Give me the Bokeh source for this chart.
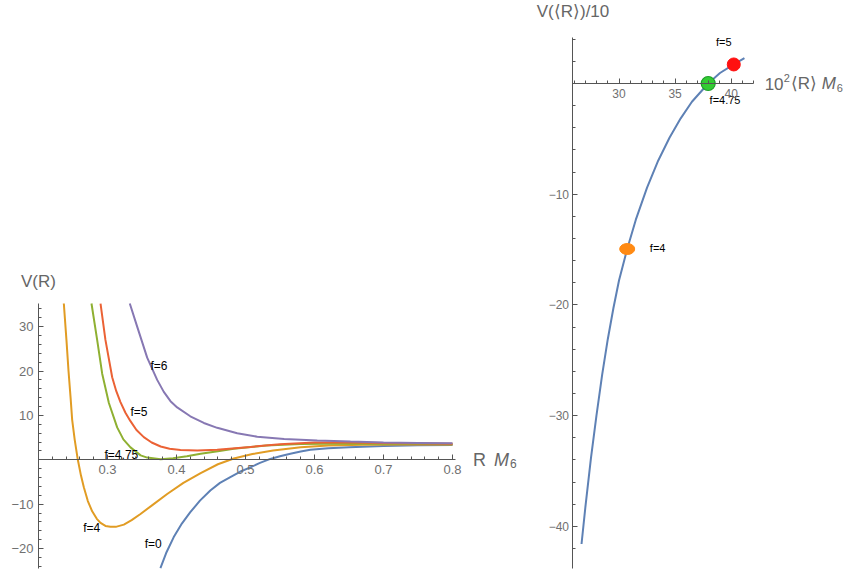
from bokeh.plotting import figure
from bokeh.models import LinearAxis, FixedTicker, Label, ColumnDataSource, Range1d
from bokeh.core.properties import value
from bokeh.embed import file_html
from bokeh.resources import INLINE

# ---------------- data: left panel V(R) ----------------
R_f0 = [0.3767, 0.385, 0.396, 0.408, 0.420, 0.434, 0.449, 0.463, 0.478, 0.492, 0.507, 0.521, 0.536, 0.55, 0.565, 0.58, 0.594, 0.62, 0.65, 0.7, 0.75, 0.8]
V_f0 = [-24.4, -21.0, -17.4, -14.3, -11.8, -9.2, -6.9, -5.2, -3.9, -2.7, -1.7, -0.7, 0.2, 0.8, 1.35, 1.85, 2.25, 2.6, 2.85, 3.1, 3.25, 3.35]

R_f4 = [0.2367, 0.2405, 0.2435, 0.2465, 0.2488, 0.2525, 0.257, 0.2615, 0.2657, 0.2715, 0.2778, 0.2845, 0.2899, 0.297, 0.3043, 0.312, 0.3237, 0.335, 0.3478, 0.365, 0.3865, 0.41, 0.435, 0.46, 0.483, 0.51, 0.54, 0.58, 0.62, 0.67, 0.72, 0.8]
V_f4 = [35.2, 27.0, 20.0, 14.0, 9.0, 4.5, 0.0, -3.5, -6.2, -9.3, -11.6, -13.3, -14.2, -14.9, -15.1, -15.1, -14.6, -13.6, -12.2, -10.2, -7.7, -5.2, -3.0, -1.0, 0.3, 1.3, 2.1, 2.8, 3.2, 3.4, 3.45, 3.45]

R_f475 = [0.2768, 0.285, 0.2923, 0.302, 0.314, 0.323, 0.3333, 0.348, 0.3575, 0.377, 0.395, 0.415, 0.435, 0.46, 0.483, 0.53, 0.58, 0.65, 0.72, 0.8]
V_f475 = [35.2, 27.0, 19.4, 12.8, 7.3, 4.6, 2.8, 1.0, 0.5, 0.15, 0.35, 0.8, 1.35, 1.95, 2.5, 3.2, 3.55, 3.65, 3.6, 3.5]

R_f5 = [0.2899, 0.297, 0.3068, 0.3126, 0.3188, 0.326, 0.3333, 0.342, 0.3526, 0.364, 0.377, 0.39, 0.4058, 0.43, 0.459, 0.507, 0.55, 0.6, 0.65, 0.7, 0.8]
V_f5 = [35.2, 27.0, 18.6, 15.5, 13.0, 10.6, 8.7, 6.7, 5.1, 3.9, 3.0, 2.5, 2.2, 2.1, 2.25, 2.9, 3.5, 3.9, 3.9, 3.8, 3.6]

R_f6 = [0.3323, 0.343, 0.3575, 0.372, 0.3816, 0.3913, 0.401, 0.420, 0.4396, 0.459, 0.488, 0.517, 0.556, 0.604, 0.652, 0.7, 0.75, 0.8]
V_f6 = [35.2, 30.0, 23.0, 18.0, 15.3, 13.2, 11.8, 9.8, 8.3, 7.2, 6.0, 5.2, 4.7, 4.35, 4.1, 3.9, 3.8, 3.7]

curve_labels = ["f=6", "f=5", "f=4.75", "f=4", "f=0"]
curve_label_R = [0.3623, 0.3333, 0.2957, 0.2648, 0.354]
curve_label_V = [21.2, 10.7, 1.0, -15.3, -18.9]

left_x_ticks = [0.3, 0.4, 0.5, 0.6, 0.7, 0.8]
left_x_tick_labels = ["0.3", "0.4", "0.5", "0.6", "0.7", "0.8"]
left_y_ticks = [-20, -10, 10, 20, 30]
left_y_tick_labels = ["\u221220", "\u221210", "10", "20", "30"]

# ---------------- data: right panel V(<R>)/10 ----------------
X_curve = [26.66, 27.0, 27.5, 27.99, 28.5, 29.0, 29.5, 30.0, 30.73, 31.5, 32.5, 33.5, 34.5, 35.5, 36.5, 37.95, 39.0, 40.23, 41.18]
V_curve = [-41.6, -38.3, -33.85, -30.0, -26.3, -23.1, -20.3, -17.8, -14.95, -12.3, -9.4, -6.95, -4.9, -3.15, -1.65, 0.0, 0.95, 1.72, 2.3]

pt_labels = ["f=4", "f=4.75", "f=5"]
pt_X = [30.73, 37.95, 40.23]
pt_V = [-14.95, 0.0, 1.72]
pt_label_X = [32.75, 39.45, 39.34]
pt_label_V = [-14.84, -1.45, 3.73]

right_x_ticks = [30, 35, 40]
right_x_tick_labels = ["30", "35", "40"]
right_y_ticks = [-40, -30, -20, -10]
right_y_tick_labels = ["\u221240", "\u221230", "\u221220", "\u221210"]

# ---------------- geometry (pixels of the canvas) ----------------
W, H = 852, 572
# left panel: R -> px = LX0 + (R - 0.2) * LSX ; V -> py = LY0 - V * LSY
LX0, LSX, LY0, LSY = 38.0, 690.0, 459.3, 4.44
# right panel: X -> px = RX0 + (X - 30) * RSX ; V -> py = RY0 - V * RSY
RX0, RSX, RY0, RSY = 618.5, 11.22, 83.0, 11.07

x_main = Range1d(0.2 - LX0 / LSX, 0.2 + (W - LX0) / LSX)
y_main = Range1d((LY0 - H) / LSY, LY0 / LSY)
x_right = Range1d(30 - RX0 / RSX, 30 + (W - RX0) / RSX)
y_right = Range1d((RY0 - H) / RSY, RY0 / RSY)

# ---------------- styling ----------------
FONT = "Liberation Sans"
AX_COL = "#555555"
TICK_LBL_COL = "#707070"
LBL_COL = "#666666"
COL_F0 = "#5E81B5"
COL_F4 = "#E19C24"
COL_F475 = "#8FB032"
COL_F5 = "#EB6235"
COL_F6 = "#8778B3"


def style_axis(ax, tick_font="13px"):
    ax.axis_line_color = AX_COL
    ax.axis_line_width = 1
    ax.major_tick_line_color = AX_COL
    ax.minor_tick_line_color = AX_COL
    ax.major_tick_in = 5
    ax.major_tick_out = 0
    ax.minor_tick_in = 3
    ax.minor_tick_out = 0
    ax.major_label_text_color = TICK_LBL_COL
    ax.major_label_text_font = FONT
    ax.major_label_text_font_size = tick_font


p = figure(output_backend="svg", toolbar_location=None, title=None,
           width=W, height=H, min_border=0,
           x_range=x_main, y_range=y_main,
           x_axis_location=None, y_axis_location=None)
p.extra_x_ranges = {"rx": x_right}
p.extra_y_ranges = {"ry": y_right}
p.outline_line_color = None
p.xgrid.visible = False
p.ygrid.visible = False

# ---------------- left panel axes ----------------
xminor_l = [round(0.2 + 0.02 * i, 2) for i in range(31)]
yminor_l = list(range(-24, 36, 2))
xax = LinearAxis(fixed_location=0, bounds=(0.2, 0.805),
                 ticker=FixedTicker(ticks=left_x_ticks, minor_ticks=xminor_l),
                 major_label_overrides={t: s for t, s in zip(left_x_ticks, left_x_tick_labels)})
style_axis(xax)
xax.major_label_standoff = 5
p.add_layout(xax, "below")
yax = LinearAxis(fixed_location=0.2, bounds=(-24.4, 35.2),
                 ticker=FixedTicker(ticks=left_y_ticks, minor_ticks=yminor_l),
                 major_label_overrides={t: s for t, s in zip(left_y_ticks, left_y_tick_labels)})
style_axis(yax)
yax.major_label_standoff = 5
p.add_layout(yax, "left")

for R, V, c in [(R_f0, V_f0, COL_F0), (R_f4, V_f4, COL_F4), (R_f475, V_f475, COL_F475),
                (R_f5, V_f5, COL_F5), (R_f6, V_f6, COL_F6)]:
    p.line(R, V, line_color=c, line_width=2)

lsrc = ColumnDataSource(dict(x=curve_label_R, y=curve_label_V, t=curve_labels))
p.text(x="x", y="y", text="t", source=lsrc, text_font=value(FONT), text_font_size="12px",
       text_color="black", text_align="left", text_baseline="middle")

p.add_layout(Label(x=0.2, y=35.2, text="V(R)", text_align="center", text_baseline="bottom",
                   y_offset=13, text_font=FONT, text_font_size="17px", text_color=LBL_COL))
p.add_layout(Label(x=0.805, y=0, text="R", text_align="left", text_baseline="middle",
                   x_offset=17, text_font=FONT, text_font_size="18px", text_color=LBL_COL))
p.add_layout(Label(x=0.805, y=0, text="M", text_align="left", text_baseline="middle",
                   x_offset=38, text_font=FONT, text_font_size="18px", text_font_style="italic",
                   text_color=LBL_COL))
p.add_layout(Label(x=0.805, y=0, text="6", text_align="left", text_baseline="middle",
                   x_offset=54, y_offset=-4, text_font=FONT, text_font_size="12px",
                   text_color=LBL_COL))

# ---------------- right panel ----------------
xminor_r = list(range(26, 43))
yminor_r = list(range(-42, 5, 2))
xax2 = LinearAxis(x_range_name="rx", y_range_name="ry", fixed_location=0, bounds=(25.9, 42.0),
                  ticker=FixedTicker(ticks=right_x_ticks, minor_ticks=xminor_r),
                  major_label_overrides={t: s for t, s in zip(right_x_ticks, right_x_tick_labels)})
style_axis(xax2, "12px")
xax2.major_label_standoff = 5
p.add_layout(xax2, "below")
yax2 = LinearAxis(x_range_name="rx", y_range_name="ry", fixed_location=25.9, bounds=(-43.8, 4.2),
                  ticker=FixedTicker(ticks=right_y_ticks, minor_ticks=yminor_r),
                  major_label_overrides={t: s for t, s in zip(right_y_ticks, right_y_tick_labels)})
style_axis(yax2, "12px")
yax2.major_label_standoff = 4
p.add_layout(yax2, "left")

p.line(X_curve, V_curve, line_color=COL_F0, line_width=2, x_range_name="rx", y_range_name="ry")
p.ellipse(x=[pt_X[0]], y=[pt_V[0]], width=15, height=11, width_units="screen", height_units="screen",
          fill_color="#FF8A14", line_color="#FF8A14", x_range_name="rx", y_range_name="ry")
p.scatter(x=[pt_X[1]], y=[pt_V[1]], size=14, marker="circle", fill_color="#33CC33",
          line_color="#1E9E2A", line_width=1.2, x_range_name="rx", y_range_name="ry")
p.scatter(x=[pt_X[2]], y=[pt_V[2]], size=13, marker="circle", fill_color="#FF1010",
          line_color="#FF1010", x_range_name="rx", y_range_name="ry")

p.text(x=[pt_label_X[0]], y=[pt_label_V[0]], text=[pt_labels[0]], text_font=value(FONT),
       text_font_size="11px", text_color="black", text_align="left", text_baseline="middle",
       x_range_name="rx", y_range_name="ry")
p.text(x=pt_label_X[1:], y=pt_label_V[1:], text=pt_labels[1:], text_font=value(FONT),
       text_font_size="11px", text_color="black", text_align="center", text_baseline="middle",
       x_range_name="rx", y_range_name="ry")

p.add_layout(Label(x=25.9, y=4.2, x_range_name="rx", y_range_name="ry", text="V(\u27E8R\u27E9)/10",
                   text_align="center", text_baseline="bottom", y_offset=16,
                   text_font=FONT, text_font_size="17px", text_color=LBL_COL))
p.add_layout(Label(x=42.0, y=0, x_range_name="rx", y_range_name="ry", text="10",
                   text_align="left", text_baseline="middle", x_offset=11,
                   text_font=FONT, text_font_size="17px", text_color=LBL_COL))
p.add_layout(Label(x=42.0, y=0, x_range_name="rx", y_range_name="ry", text="2",
                   text_align="left", text_baseline="middle", x_offset=30, y_offset=6,
                   text_font=FONT, text_font_size="11px", text_color=LBL_COL))
p.add_layout(Label(x=42.0, y=0, x_range_name="rx", y_range_name="ry", text="\u27E8R\u27E9",
                   text_align="left", text_baseline="middle", x_offset=37,
                   text_font=FONT, text_font_size="17px", text_color=LBL_COL))
p.add_layout(Label(x=42.0, y=0, x_range_name="rx", y_range_name="ry", text="M",
                   text_align="left", text_baseline="middle", x_offset=68,
                   text_font=FONT, text_font_size="17px", text_font_style="italic",
                   text_color=LBL_COL))
p.add_layout(Label(x=42.0, y=0, x_range_name="rx", y_range_name="ry", text="6",
                   text_align="left", text_baseline="middle", x_offset=83, y_offset=-4,
                   text_font=FONT, text_font_size="11px", text_color=LBL_COL))

open("out.html", "w").write(file_html(p, INLINE))
